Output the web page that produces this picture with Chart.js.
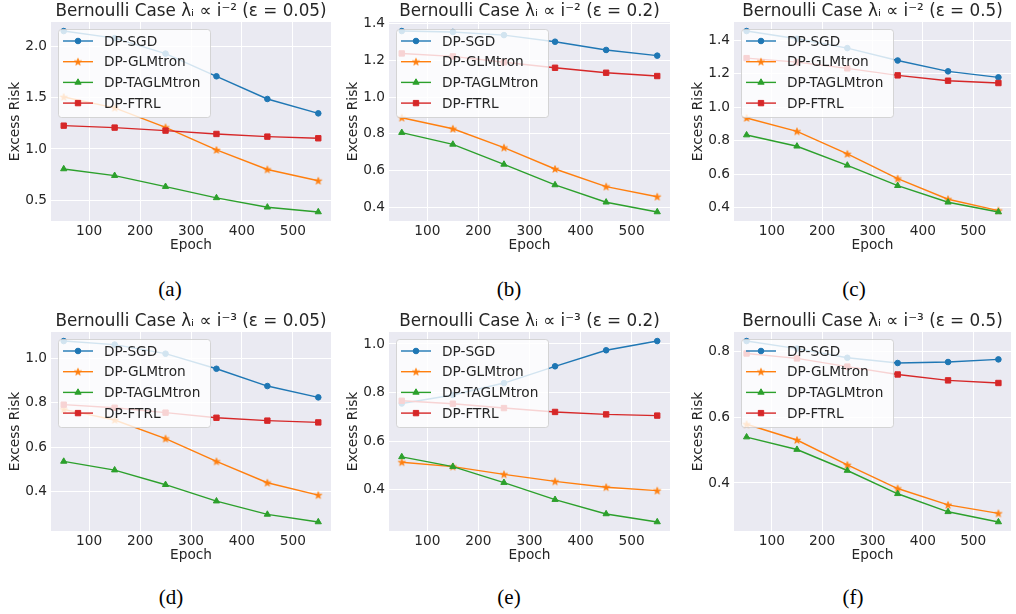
<!DOCTYPE html>
<html>
<head>
<meta charset="utf-8">
<script src="https://cdn.jsdelivr.net/npm/chart.js@4.4.0/dist/chart.umd.min.js"></script>
<style>
  body { margin: 0; background: #fff; }
  #fig { position: relative; width: 1016px; height: 614px; overflow: hidden; }
  .panel { position: absolute; }
  .cap {
    position: absolute;
    font-family: 'Liberation Serif', 'Times New Roman', serif;
    font-size: 21px;
    color: #000;
    transform: translate(-50%, -50%);
    white-space: nowrap;
  }
</style>
</head>
<body>
<div id="fig"></div>
<script>
// ---- data ----
var epochs = [50, 150, 250, 350, 450, 550]
var xTicks = [100, 200, 300, 400, 500]
var methodNames = ['DP-SGD', 'DP-GLMtron', 'DP-TAGLMtron', 'DP-FTRL']

var panelTitles = [
  'Bernoulli Case λᵢ ∝ i⁻² (ε = 0.05)',
  'Bernoulli Case λᵢ ∝ i⁻² (ε = 0.2)',
  'Bernoulli Case λᵢ ∝ i⁻² (ε = 0.5)',
  'Bernoulli Case λᵢ ∝ i⁻³ (ε = 0.05)',
  'Bernoulli Case λᵢ ∝ i⁻³ (ε = 0.2)',
  'Bernoulli Case λᵢ ∝ i⁻³ (ε = 0.5)'
]
var panelLetters = ['(a)', '(b)', '(c)', '(d)', '(e)', '(f)']

var yTicksA = [0.5, 1.0, 1.5, 2.0]
var yTicksB = [0.4, 0.6, 0.8, 1.0, 1.2, 1.4]
var yTicksC = [0.4, 0.6, 0.8, 1.0, 1.2, 1.4]
var yTicksD = [0.4, 0.6, 0.8, 1.0]
var yTicksE = [0.4, 0.6, 0.8, 1.0]
var yTicksF = [0.4, 0.6, 0.8]

// (a) i^-2, eps 0.05
var sgdA  = [2.149, 2.08, 1.929, 1.708, 1.487, 1.347]
var glmA  = [1.506, 1.40, 1.21, 0.99, 0.80, 0.69]
var tagA  = [0.805, 0.74, 0.633, 0.523, 0.432, 0.386]
var ftrlA = [1.227, 1.208, 1.179, 1.146, 1.12, 1.104]
// (b) i^-2, eps 0.2
var sgdB  = [1.36, 1.355, 1.338, 1.302, 1.257, 1.226]
var glmB  = [0.888, 0.828, 0.725, 0.609, 0.513, 0.458]
var tagB  = [0.807, 0.743, 0.634, 0.522, 0.428, 0.375]
var ftrlB = [1.238, 1.222, 1.19, 1.16, 1.133, 1.115]
// (c) i^-2, eps 0.5
var sgdC  = [1.456, 1.41, 1.354, 1.28, 1.215, 1.179]
var glmC  = [0.936, 0.856, 0.721, 0.573, 0.45, 0.382]
var tagC  = [0.834, 0.767, 0.653, 0.531, 0.432, 0.374]
var ftrlC = [1.294, 1.27, 1.233, 1.191, 1.159, 1.145]
// (d) i^-3, eps 0.05
var sgdD  = [1.078, 1.062, 1.021, 0.953, 0.875, 0.824]
var glmD  = [0.770, 0.722, 0.638, 0.535, 0.439, 0.383]
var tagD  = [0.535, 0.496, 0.43, 0.356, 0.296, 0.262]
var ftrlD = [0.791, 0.777, 0.755, 0.732, 0.719, 0.711]
// (e) i^-3, eps 0.2
var sgdE  = [0.755, 0.79, 0.839, 0.908, 0.974, 1.012]
var glmE  = [0.513, 0.495, 0.463, 0.434, 0.41, 0.396]
var tagE  = [0.535, 0.495, 0.429, 0.359, 0.3, 0.267]
var ftrlE = [0.766, 0.754, 0.736, 0.72, 0.71, 0.705]
// (f) i^-3, eps 0.5
var sgdF  = [0.833, 0.81, 0.782, 0.766, 0.769, 0.777]
var glmF  = [0.579, 0.531, 0.455, 0.383, 0.333, 0.307]
var tagF  = [0.54, 0.502, 0.438, 0.367, 0.312, 0.281]
var ftrlF = [0.795, 0.78, 0.755, 0.731, 0.713, 0.705]

var panelSeries = [
  [sgdA, glmA, tagA, ftrlA],
  [sgdB, glmB, tagB, ftrlB],
  [sgdC, glmC, tagC, ftrlC],
  [sgdD, glmD, tagD, ftrlD],
  [sgdE, glmE, tagE, ftrlE],
  [sgdF, glmF, tagF, ftrlF]
]
var panelYTicks = [yTicksA, yTicksB, yTicksC, yTicksD, yTicksE, yTicksF]

// ---- look ----
var colors = ['#1f77b4', '#ff7f0e', '#2ca02c', '#d62728']
var textColor = '#262626'
var fontFamily = "'DejaVu Sans', sans-serif"

Chart.defaults.font.family = fontFamily

// where each panel canvas sits in the figure
var panelBoxes = [
  { left: 0,   top: 0,   width: 336, padRight: 2, capX: 170, capY: 289 },
  { left: 338, top: 0,   width: 337, padRight: 2, capX: 509, capY: 289 },
  { left: 683, top: 0,   width: 333, padRight: 1, capX: 854, capY: 289 },
  { left: 0,   top: 310, width: 336, padRight: 2, capX: 171, capY: 597 },
  { left: 338, top: 310, width: 337, padRight: 2, capX: 509, capY: 597 },
  { left: 683, top: 310, width: 333, padRight: 1, capX: 853, capY: 597 }
]
var panelHeight = 265

// matplotlib-like filled star marker
function makeStar(color) {
  var c = document.createElement('canvas')
  c.width = 10
  c.height = 10
  var ctx = c.getContext('2d')
  var outer = 3.7, inner = outer * 0.382
  ctx.beginPath()
  for (var k = 0; k < 10; k++) {
    var r = k % 2 === 0 ? outer : inner
    var a = -Math.PI / 2 + k * Math.PI / 5
    var px = 5 + r * Math.cos(a), py = 5.3 + r * Math.sin(a)
    if (k === 0) ctx.moveTo(px, py); else ctx.lineTo(px, py)
  }
  ctx.closePath()
  ctx.fillStyle = color
  ctx.strokeStyle = color
  ctx.lineWidth = 0.8
  ctx.fill()
  ctx.stroke()
  return c
}

var markerStyles = ['circle', makeStar(colors[1]), 'triangle', 'rect']
var markerRadius = [2.8, 4, 3.6, 3.8]

var bgPlugin = {
  id: 'plotBg',
  beforeDraw: function (chart) {
    var a = chart.chartArea, ctx = chart.ctx
    ctx.save()
    ctx.fillStyle = '#eaeaf2'
    ctx.fillRect(a.left, a.top, a.right - a.left, a.bottom - a.top)
    ctx.restore()
  }
}

// legend drawn over the lines, like matplotlib's framed legend
var legendPlugin = {
  id: 'innerLegend',
  afterDatasetsDraw: function (chart) {
    var a = chart.chartArea, ctx = chart.ctx
    var bx = a.left + 7, by = a.top + 7, bw = 152, bh = 88
    ctx.save()
    ctx.beginPath()
    ctx.roundRect(bx + 0.5, by + 0.5, bw, bh, 3)
    ctx.fillStyle = 'rgba(255,255,255,0.8)'
    ctx.fill()
    ctx.strokeStyle = 'rgba(204,204,204,0.8)'
    ctx.lineWidth = 1
    ctx.stroke()

    chart.data.datasets.forEach(function (ds, i) {
      var y = by + 12 + i * 20.7
      ctx.strokeStyle = ds.borderColor
      ctx.lineWidth = ds.borderWidth
      ctx.beginPath()
      ctx.moveTo(bx + 5, y)
      ctx.lineTo(bx + 35, y)
      ctx.stroke()
      ctx.fillStyle = ds.borderColor
      ctx.lineWidth = 1
      Chart.helpers.drawPoint(ctx, {
        pointStyle: ds.pointStyle,
        radius: ds.pointRadius,
        rotation: 0,
        borderWidth: 1
      }, bx + 20, y)
      ctx.fillStyle = textColor
      ctx.font = '13.7px ' + fontFamily
      ctx.textBaseline = 'middle'
      ctx.textAlign = 'left'
      ctx.fillText(ds.label, bx + 46, y + 1)
    })
    ctx.restore()
  }
}

function yLimits(series) {
  var all = [].concat.apply([], series)
  var lo = Math.min.apply(null, all), hi = Math.max.apply(null, all)
  var m = (hi - lo) * 0.05
  return [lo - m, hi + m]
}

var fig = document.getElementById('fig')

panelBoxes.forEach(function (box, p) {
  var wrap = document.createElement('div')
  wrap.className = 'panel'
  wrap.style.left = box.left + 'px'
  wrap.style.top = box.top + 'px'
  wrap.style.width = box.width + 'px'
  wrap.style.height = panelHeight + 'px'
  var canvas = document.createElement('canvas')
  canvas.width = box.width
  canvas.height = panelHeight
  wrap.appendChild(canvas)
  fig.appendChild(wrap)

  var cap = document.createElement('div')
  cap.className = 'cap'
  cap.style.left = box.capX + 'px'
  cap.style.top = box.capY + 'px'
  cap.textContent = panelLetters[p]
  fig.appendChild(cap)

  var series = panelSeries[p]
  var lim = yLimits(series)
  var yTicks = panelYTicks[p]

  var datasets = series.map(function (vals, i) {
    return {
      label: methodNames[i],
      data: epochs.map(function (x, j) { return { x: x, y: vals[j] } }),
      borderColor: colors[i],
      backgroundColor: colors[i],
      borderWidth: 1.4,
      pointStyle: markerStyles[i],
      pointRadius: markerRadius[i],
      pointBorderWidth: 1,
      pointHoverRadius: markerRadius[i],
      tension: 0,
      order: 3 - i
    }
  })

  new Chart(canvas.getContext('2d'), {
    type: 'line',
    data: { datasets: datasets },
    plugins: [bgPlugin, legendPlugin],
    options: {
      responsive: false,
      animation: false,
      devicePixelRatio: 1,
      layout: { padding: { left: 0, right: box.padRight, top: 0, bottom: 0 } },
      plugins: {
        legend: { display: false },
        tooltip: { enabled: false },
        title: {
          display: true,
          fullSize: false,
          text: panelTitles[p],
          color: textColor,
          font: { size: 16.8, weight: 'normal', lineHeight: '20px' },
          padding: { top: 2, bottom: 0 }
        }
      },
      scales: {
        x: {
          type: 'linear',
          min: 25,
          max: 575,
          border: { display: false },
          grid: { color: '#ffffff', lineWidth: 1, drawTicks: false },
          ticks: { color: textColor, font: { size: 13.7 }, padding: 2 },
          afterBuildTicks: function (s) { s.ticks = xTicks.map(function (v) { return { value: v } }) },
          afterFit: function (s) { s.height = 44 },
          title: {
            display: true, text: 'Epoch', color: textColor,
            font: { size: 13.7 }, padding: { top: 0, bottom: 11 }
          }
        },
        y: {
          min: lim[0],
          max: lim[1],
          border: { display: false },
          grid: { color: '#ffffff', lineWidth: 1, drawTicks: false },
          ticks: {
            color: textColor, font: { size: 13.7 }, padding: 4,
            callback: function (v) { return v.toFixed(1) }
          },
          afterBuildTicks: function (s) { s.ticks = yTicks.map(function (v) { return { value: v } }) },
          afterFit: function (s) { s.width = 51 },
          title: {
            display: true, text: 'Excess Risk', color: textColor,
            font: { size: 13.7 }, padding: { top: 7, bottom: 0 }
          }
        }
      }
    }
  })
})
</script>
</body>
</html>
